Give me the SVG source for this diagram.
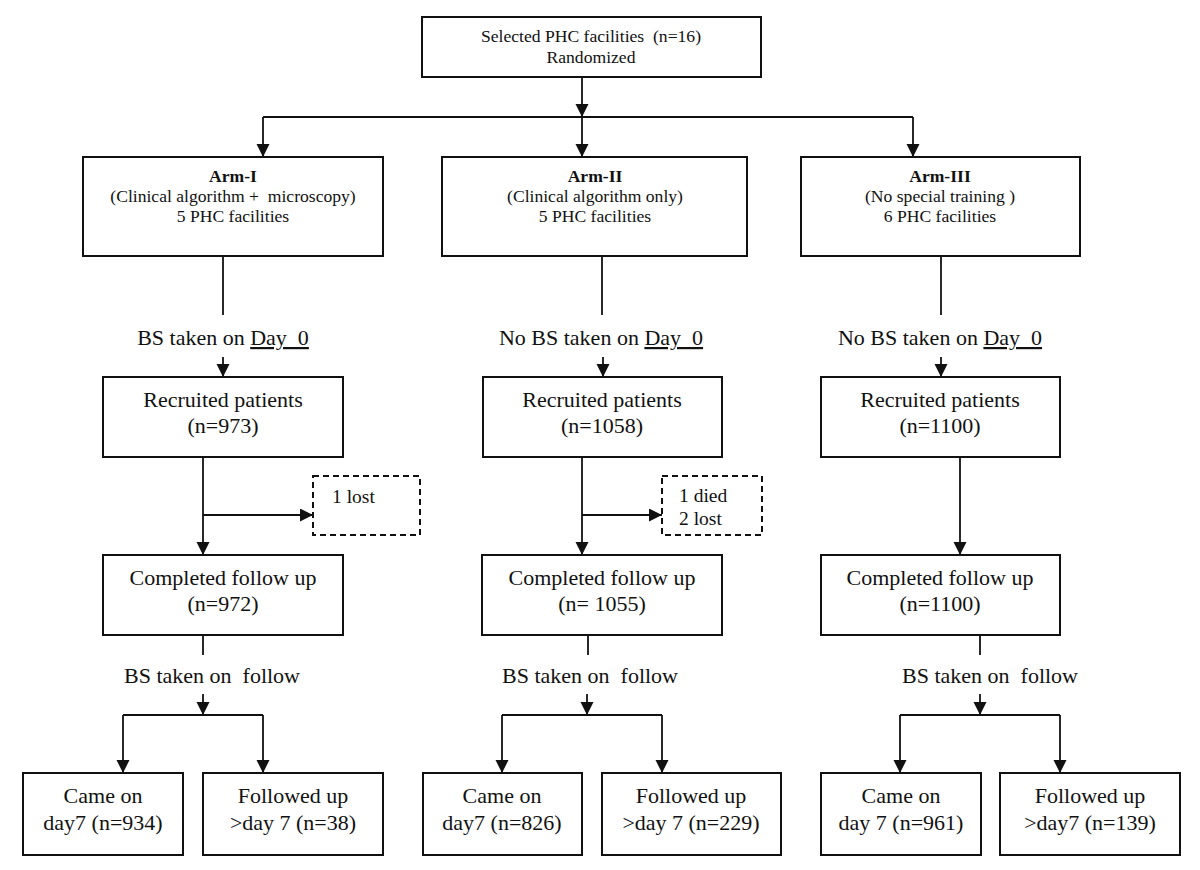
<svg xmlns="http://www.w3.org/2000/svg" width="1200" height="870" viewBox="0 0 1200 870">
<defs>
<style>
.box{fill:#fff;stroke:#111;stroke-width:2}
.dash{fill:#fff;stroke:#111;stroke-width:2;stroke-dasharray:6,4}
.ln{fill:none;stroke:#111;stroke-width:1.8}
text{font-family:"Liberation Serif","Times New Roman",serif;fill:#111;text-anchor:middle}
.s17{font-size:17.6px}
.s21{font-size:22px}
.s19{font-size:19.5px;text-anchor:start}
.b{font-weight:bold}
</style>
<marker id="ah" markerUnits="userSpaceOnUse" markerWidth="14" markerHeight="14" refX="13" refY="6.5" orient="auto">
<path d="M0,0 L13,6.5 L0,13 z" fill="#111"/>
</marker>
</defs>
<rect width="1200" height="870" fill="#fff"/>

<g id="connectors">
<line class="ln" x1="582" y1="77" x2="582" y2="117" marker-end="url(#ah)"/>
<line class="ln" x1="263" y1="117" x2="913" y2="117"/>
<line class="ln" x1="263" y1="117" x2="263" y2="157" marker-end="url(#ah)"/>
<line class="ln" x1="582" y1="117" x2="582" y2="157" marker-end="url(#ah)"/>
<line class="ln" x1="913" y1="117" x2="913" y2="157" marker-end="url(#ah)"/>

<line class="ln" x1="223" y1="256" x2="223" y2="315"/>
<line class="ln" x1="602" y1="256" x2="602" y2="315"/>
<line class="ln" x1="941" y1="256" x2="941" y2="315"/>
<line class="ln" x1="223" y1="357" x2="223" y2="377" marker-end="url(#ah)"/>
<line class="ln" x1="603" y1="357" x2="603" y2="377" marker-end="url(#ah)"/>
<line class="ln" x1="941" y1="357" x2="941" y2="377" marker-end="url(#ah)"/>

<line class="ln" x1="203" y1="457" x2="203" y2="555" marker-end="url(#ah)"/>
<line class="ln" x1="203" y1="515" x2="313" y2="515" marker-end="url(#ah)"/>
<line class="ln" x1="582" y1="457" x2="582" y2="555" marker-end="url(#ah)"/>
<line class="ln" x1="582" y1="515" x2="662" y2="515" marker-end="url(#ah)"/>
<line class="ln" x1="960" y1="457" x2="960" y2="555" marker-end="url(#ah)"/>

<line class="ln" x1="203" y1="635" x2="203" y2="655"/>
<line class="ln" x1="588" y1="635" x2="588" y2="655"/>
<line class="ln" x1="980" y1="635" x2="980" y2="655"/>

<line class="ln" x1="203" y1="694" x2="203" y2="715" marker-end="url(#ah)"/>
<line class="ln" x1="587" y1="694" x2="587" y2="715" marker-end="url(#ah)"/>
<line class="ln" x1="980" y1="694" x2="980" y2="715" marker-end="url(#ah)"/>

<line class="ln" x1="123" y1="715" x2="263" y2="715"/>
<line class="ln" x1="123" y1="715" x2="123" y2="773" marker-end="url(#ah)"/>
<line class="ln" x1="263" y1="715" x2="263" y2="773" marker-end="url(#ah)"/>
<line class="ln" x1="502" y1="715" x2="662" y2="715"/>
<line class="ln" x1="502" y1="715" x2="502" y2="773" marker-end="url(#ah)"/>
<line class="ln" x1="662" y1="715" x2="662" y2="773" marker-end="url(#ah)"/>
<line class="ln" x1="900" y1="715" x2="1060" y2="715"/>
<line class="ln" x1="900" y1="715" x2="900" y2="773" marker-end="url(#ah)"/>
<line class="ln" x1="1060" y1="715" x2="1060" y2="773" marker-end="url(#ah)"/>
</g>

<g id="labels">
<text class="s21" x="223" y="345" xml:space="preserve">BS taken on <tspan text-decoration="underline">Day  0</tspan></text>
<text class="s21" x="601" y="345" xml:space="preserve">No BS taken on <tspan text-decoration="underline">Day  0</tspan></text>
<text class="s21" x="940" y="345" xml:space="preserve">No BS taken on <tspan text-decoration="underline">Day  0</tspan></text>
<text class="s21" x="212" y="683" xml:space="preserve">BS taken on  follow</text>
<text class="s21" x="590" y="683" xml:space="preserve">BS taken on  follow</text>
<text class="s21" x="990" y="683" xml:space="preserve">BS taken on  follow</text>
</g>

<g id="n-top">
<rect class="box" x="422" y="17" width="339" height="60"/>
<text class="s17" x="591" y="42" xml:space="preserve">Selected PHC facilities  (n=16)</text>
<text class="s17" x="591" y="63">Randomized</text>
</g>

<g id="n-arm1">
<rect class="box" x="83" y="157" width="300" height="99"/>
<text class="s17 b" x="233" y="182">Arm-I</text>
<text class="s17" x="233" y="202" xml:space="preserve">(Clinical algorithm +  microscopy)</text>
<text class="s17" x="233" y="222">5 PHC facilities</text>
</g>
<g id="n-arm2">
<rect class="box" x="442" y="157" width="305" height="99"/>
<text class="s17 b" x="595" y="182">Arm-II</text>
<text class="s17" x="595" y="202">(Clinical algorithm only)</text>
<text class="s17" x="595" y="222">5 PHC facilities</text>
</g>
<g id="n-arm3">
<rect class="box" x="801" y="157" width="279" height="99"/>
<text class="s17 b" x="940" y="182">Arm-III</text>
<text class="s17" x="940" y="202">(No special training )</text>
<text class="s17" x="940" y="222">6 PHC facilities</text>
</g>

<g id="n-rec1">
<rect class="box" x="103" y="377" width="240" height="80"/>
<text class="s21" x="223" y="407">Recruited patients</text>
<text class="s21" x="223" y="433">(n=973)</text>
</g>
<g id="n-rec2">
<rect class="box" x="483" y="377" width="239" height="80"/>
<text class="s21" x="602" y="407">Recruited patients</text>
<text class="s21" x="602" y="433">(n=1058)</text>
</g>
<g id="n-rec3">
<rect class="box" x="821" y="377" width="239" height="80"/>
<text class="s21" x="940" y="407">Recruited patients</text>
<text class="s21" x="940" y="433">(n=1100)</text>
</g>

<g id="n-lost1">
<rect class="dash" x="313" y="476" width="107" height="59"/>
<text class="s19" x="332" y="503">1 lost</text>
</g>
<g id="n-lost2">
<rect class="dash" x="662" y="476" width="100" height="59"/>
<text class="s19" x="679" y="502">1 died</text>
<text class="s19" x="679" y="525">2 lost</text>
</g>

<g id="n-comp1">
<rect class="box" x="103" y="555" width="240" height="80"/>
<text class="s21" x="223" y="585">Completed follow up</text>
<text class="s21" x="223" y="611">(n=972)</text>
</g>
<g id="n-comp2">
<rect class="box" x="482" y="555" width="240" height="80"/>
<text class="s21" x="602" y="585">Completed follow up</text>
<text class="s21" x="602" y="611" xml:space="preserve">(n= 1055)</text>
</g>
<g id="n-comp3">
<rect class="box" x="821" y="555" width="239" height="80"/>
<text class="s21" x="940" y="585">Completed follow up</text>
<text class="s21" x="940" y="611">(n=1100)</text>
</g>

<g id="n-d1a">
<rect class="box" x="23" y="773" width="160" height="82"/>
<text class="s21" x="103" y="803">Came on</text>
<text class="s21" x="103" y="830">day7 (n=934)</text>
</g>
<g id="n-d1b">
<rect class="box" x="203" y="773" width="180" height="82"/>
<text class="s21" x="293" y="803">Followed up</text>
<text class="s21" x="293" y="830">&gt;day 7 (n=38)</text>
</g>
<g id="n-d2a">
<rect class="box" x="423" y="773" width="159" height="82"/>
<text class="s21" x="502" y="803">Came on</text>
<text class="s21" x="502" y="830">day7 (n=826)</text>
</g>
<g id="n-d2b">
<rect class="box" x="602" y="773" width="179" height="82"/>
<text class="s21" x="691" y="803">Followed up</text>
<text class="s21" x="691" y="830">&gt;day 7 (n=229)</text>
</g>
<g id="n-d3a">
<rect class="box" x="821" y="773" width="160" height="82"/>
<text class="s21" x="901" y="803">Came on</text>
<text class="s21" x="901" y="830">day 7 (n=961)</text>
</g>
<g id="n-d3b">
<rect class="box" x="1000" y="773" width="180" height="82"/>
<text class="s21" x="1090" y="803">Followed up</text>
<text class="s21" x="1090" y="830">&gt;day7 (n=139)</text>
</g>
</svg>
